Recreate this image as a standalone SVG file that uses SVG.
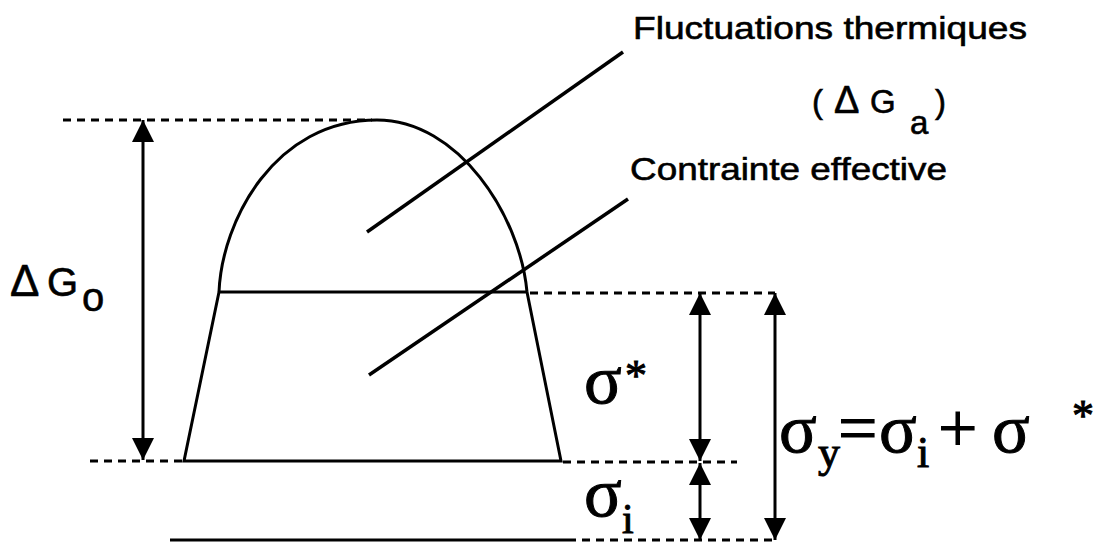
<svg xmlns="http://www.w3.org/2000/svg" width="1097" height="543" viewBox="0 0 1097 543">
  <style>
    .solid { stroke: #000; stroke-width: 3; fill: none; }
    .dash { stroke: #000; stroke-width: 3; fill: none; stroke-dasharray: 8 6; }
    .lead { stroke: #000; stroke-width: 3.5; fill: none; }
    .arr { stroke: #000; stroke-width: 3; fill: none; marker-start: url(#ah); marker-end: url(#ah); }
    .sans { font-family: "Liberation Sans", Arial, sans-serif; fill: #000; stroke: #000; stroke-width: 0.6; }
    .serif { font-family: "Liberation Serif", "Times New Roman", serif; fill: #000; stroke: #000; stroke-width: 1; }
  </style>
  <defs>
    <marker id="ah" viewBox="0 0 10 10" refX="10" refY="5" markerUnits="userSpaceOnUse" markerWidth="25" markerHeight="22" orient="auto-start-reverse">
      <path d="M0,0 L10,5 L0,10 z" fill="#000"/>
    </marker>
  </defs>
  <rect width="1097" height="543" fill="#fff"/>

  <g id="shape">
    <path class="solid" d="M219,292 C222,220 275,120 377,120 C458,120 520,215 527,292"/>
    <path class="solid" d="M219,292 L527,292 M219,292 L184,461 L561,461 L527,292"/>
    <path class="solid" d="M170,540 L568,540"/>
  </g>

  <g id="guides">
    <line class="dash" x1="63" y1="120" x2="372" y2="120"/>
    <line class="dash" x1="90" y1="461" x2="184" y2="461"/>
    <line class="dash" x1="530" y1="293" x2="775" y2="293"/>
    <line class="dash" x1="563" y1="462" x2="737" y2="462"/>
    <line class="dash" x1="568" y1="540" x2="775" y2="540"/>
  </g>

  <g id="connectors">
    <line class="lead" x1="367" y1="232" x2="623" y2="52"/>
    <line class="lead" x1="369" y1="375" x2="628" y2="199"/>
    <line class="arr" x1="143" y1="120" x2="143" y2="460"/>
    <line class="arr" x1="700" y1="293" x2="700" y2="461"/>
    <line class="arr" x1="700" y1="463" x2="700" y2="540"/>
    <line class="arr" x1="775" y1="293" x2="775" y2="540"/>
  </g>

  <g id="label-fluct">
    <text class="sans" x="633" y="39" font-size="32" textLength="394" lengthAdjust="spacingAndGlyphs">Fluctuations thermiques</text>
    <text class="sans" x="812" y="113" font-size="33">(<tspan x="834" font-size="38">Δ</tspan><tspan x="870">G</tspan><tspan x="910" y="134">a</tspan><tspan x="935" y="113">)</tspan></text>
  </g>
  <g id="label-contrainte">
    <text class="sans" x="630" y="180" font-size="32" textLength="317" lengthAdjust="spacingAndGlyphs">Contrainte effective</text>
  </g>
  <g id="label-dG0">
    <text class="sans" x="10" y="296" font-size="40"><tspan font-size="44">Δ</tspan><tspan x="47">G</tspan><tspan x="82" y="311">o</tspan></text>
  </g>
  <g id="label-sigma-star">
    <text class="serif" x="584" y="403" font-size="70">σ</text>
    <text class="serif" x="625" y="390" font-size="44">*</text>
  </g>
  <g id="label-sigma-i">
    <text class="serif" x="584" y="516" font-size="70">σ</text>
    <text class="serif" x="622" y="533" font-size="42">i</text>
  </g>
  <g id="label-formula">
    <text class="serif" x="779" y="452" font-size="70">σ<tspan x="818" y="467" font-size="44">y</tspan><tspan x="838" y="452">=</tspan><tspan x="879">σ</tspan><tspan x="917" y="467" font-size="44">i</tspan><tspan x="938" y="452">+</tspan><tspan x="992">σ</tspan><tspan x="1072" y="430" font-size="44">*</tspan></text>
  </g>
</svg>
